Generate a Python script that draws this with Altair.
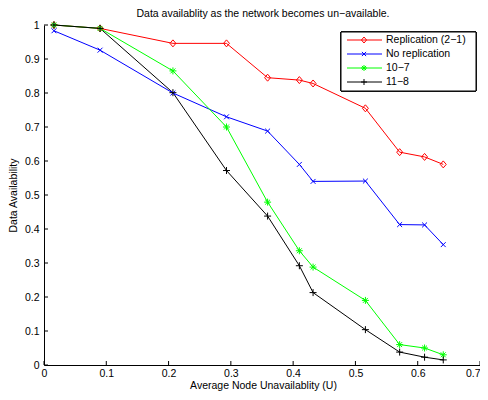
import altair as alt
import pandas as pd

FONT = "Liberation Sans"

series = ["Replication (2−1)", "No replication", "10−7", "11−8"]
colors = ["#ff0000", "#0000ff", "#00ff00", "#000000"]
marker_paths = [
    "M0,-1L0.85,0L0,1L-0.85,0Z",                              # diamond
    "M-0.7,-0.7L0.7,0.7M-0.7,0.7L0.7,-0.7",                   # x
    "M-1,0L1,0M0,-1L0,1M-0.7,-0.7L0.7,0.7M-0.7,0.7L0.7,-0.7", # asterisk
    "M-1,0L1,0M0,-1L0,1",                                     # plus
]

u = [0.016, 0.090, 0.207, 0.293, 0.359, 0.410, 0.432, 0.516, 0.571, 0.611, 0.641]
rep_2_1 = [1.000, 0.990, 0.946, 0.946, 0.845, 0.838, 0.828, 0.755, 0.626, 0.612, 0.590]
no_rep = [0.983, 0.926, 0.800, 0.730, 0.688, 0.590, 0.540, 0.541, 0.413, 0.412, 0.354]
rep_10_7 = [1.000, 0.990, 0.865, 0.700, 0.479, 0.336, 0.288, 0.190, 0.060, 0.050, 0.030]
rep_11_8 = [1.000, 0.990, 0.801, 0.572, 0.438, 0.292, 0.213, 0.104, 0.038, 0.023, 0.015]

x_ticks = [0, 0.1, 0.2, 0.3, 0.4, 0.5, 0.6, 0.7]
y_ticks = [0, 0.1, 0.2, 0.3, 0.4, 0.5, 0.6, 0.7, 0.8, 0.9, 1]

rows = []
for name, vals in zip(series, [rep_2_1, no_rep, rep_10_7, rep_11_8]):
    for i, (xv, yv) in enumerate(zip(u, vals)):
        rows.append({"series": name, "u": xv, "avail": yv, "order": i})
df = pd.DataFrame(rows)
leg_df = pd.DataFrame({"series": series, "idx": list(range(len(series)))})

W, H = 436, 340

x_scale = alt.Scale(domain=[0, 0.7], nice=False, zero=False, padding=0)
y_scale = alt.Scale(domain=[0, 1], nice=False, zero=False, padding=0)
x_axis = alt.Axis(
    values=x_ticks, format="~g", title="Average Node Unavailablity (U)", grid=False,
    ticks=False, labelPadding=3, titleX=219, titleY=20,
    labelAlign={"condition": {"test": "datum.value >= 0.7", "value": "right"}, "value": "center"},
    titleBaseline="middle", titleAnchor="middle",
)
y_axis = alt.Axis(
    values=y_ticks, format="~g", title="Data Availability", grid=False,
    ticks=False, labelPadding=5, titleX=-31, titleY=H / 2,
    titleBaseline="middle", titleAnchor="middle",
)
color = alt.Color("series:N", scale=alt.Scale(domain=series, range=colors), legend=None)
shape = alt.Shape("series:N", scale=alt.Scale(domain=series, range=marker_paths), legend=None)

base = alt.Chart(df)
lines = base.mark_line(strokeWidth=1).encode(
    x=alt.X("u:Q", scale=x_scale, axis=x_axis),
    y=alt.Y("avail:Q", scale=y_scale, axis=y_axis),
    color=color, order="order:Q",
)
points = base.mark_point(filled=False, strokeWidth=1, size=49, opacity=1).encode(
    x=alt.X("u:Q", scale=x_scale, axis=x_axis),
    y=alt.Y("avail:Q", scale=y_scale, axis=y_axis),
    color=color, shape=shape,
)

xt = alt.Chart(pd.DataFrame({"t": x_ticks})).mark_rule(color="black", strokeWidth=1).encode(
    x=alt.X("t:Q", scale=x_scale, axis=x_axis), y=alt.value(H), y2=alt.value(H - 4)
)
yt = alt.Chart(pd.DataFrame({"t": y_ticks})).mark_rule(color="black", strokeWidth=1).encode(
    y=alt.Y("t:Q", scale=y_scale, axis=y_axis), x=alt.value(0), x2=alt.value(4)
)

# legend box (drawn manually: line + marker per entry)
leg = alt.Chart(leg_df).transform_calculate(ly="15 + datum.idx * 14")
leg_box = alt.Chart(leg_df).mark_rect(fill="white", stroke="black", strokeWidth=1).encode(
    x=alt.value(297), x2=alt.value(432), y=alt.value(7), y2=alt.value(66)
)
leg_lines = leg.mark_rule(strokeWidth=1).encode(
    x=alt.value(303), x2=alt.value(338), y=alt.Y("ly:Q", scale=None), color=color
)
leg_marks = leg.mark_point(filled=False, strokeWidth=1, size=36, opacity=1).encode(
    x=alt.value(320), y=alt.Y("ly:Q", scale=None), color=color, shape=shape
)
leg_text = leg.mark_text(align="left", baseline="middle", font=FONT, fontSize=10.5, color="black").encode(
    x=alt.value(342), y=alt.Y("ly:Q", scale=None), text="series:N"
)

chart = alt.layer(lines, points, xt, yt, leg_box, leg_lines, leg_marks, leg_text).properties(
    width=W, height=H,
    title=alt.TitleParams(
        "Data availablity as the network becomes un−available.",
        font=FONT, fontSize=10.5, fontWeight="normal", color="black",
        anchor="middle", offset=6, baseline="middle", dy=11, dx=1,
    ),
    autosize=alt.AutoSizeParams(type="none"),
    padding={"left": 36, "top": 17, "right": 0, "bottom": 27},
).configure_view(stroke=None).configure_axis(
    domainColor="black", tickColor="black", labelColor="black", titleColor="black",
    labelFont=FONT, titleFont=FONT, labelFontSize=10.5, titleFontSize=10.5,
    titleFontWeight="normal", domainWidth=1, tickWidth=1,
)

chart.save("out.html", embed_options={"renderer": "svg", "actions": False})
